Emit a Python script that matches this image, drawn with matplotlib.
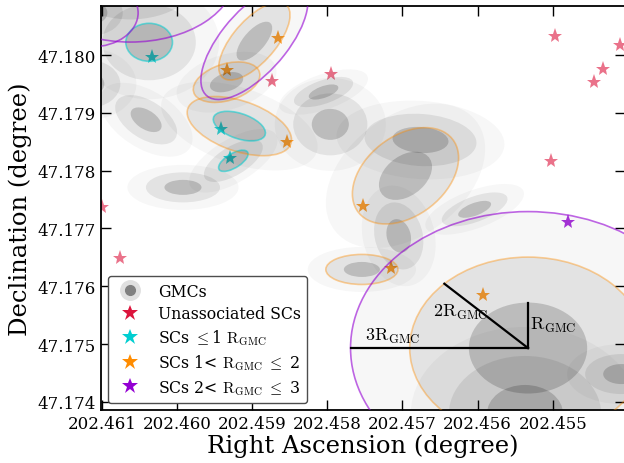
import numpy as np
import matplotlib

matplotlib.use("Agg")
import matplotlib.pyplot as plt
from matplotlib.patches import Ellipse
from matplotlib.lines import Line2D

plt.rcParams["font.family"] = "serif"
plt.rcParams["font.serif"] = ["DejaVu Serif"]
plt.rcParams["mathtext.fontset"] = "cm"

# GMC catalogue: centre (deg), full axes of the 1 R_GMC ellipse (deg), angle (deg)
gmc_ra = [202.46062, 202.46113, 202.46118, 202.46037, 202.45897, 202.45934, 202.46041,
          202.45917, 202.45925, 202.45992, 202.45805, 202.45796, 202.45676, 202.45696,
          202.45705, 202.45604, 202.45754, 202.45533, 202.45537, 202.45409]
gmc_dec = [47.18140, 47.18073, 47.17950, 47.18022, 47.18024, 47.17953, 47.17888,
           47.17877, 47.17817, 47.17771, 47.17936, 47.17880, 47.17853, 47.17791,
           47.17687, 47.17733, 47.17629, 47.17493, 47.17379, 47.17448]
gmc_width = [0.000933, 0.000409, 0.000427, 0.000621, 0.000763, 0.000475, 0.000514,
             0.000754, 0.000487, 0.000493, 0.000431, 0.000493, 0.000747, 0.000915,
             0.000584, 0.000483, 0.000480, 0.001574, 0.001013, 0.000480]
gmc_height = [0.000784, 0.000392, 0.000415, 0.000657, 0.000310, 0.000306, 0.000296,
              0.000419, 0.000227, 0.000260, 0.000195, 0.000536, 0.000450, 0.000597,
              0.000321, 0.000210, 0.000260, 0.001574, 0.001003, 0.000346]
gmc_angle = [0, 0, 0, 0, 121, 152, 47, 28, 138, 0, 153, 0, 6, 123, 82, 152, 0, 0, 0, 0]

# GMCs that get an outline at 1, 2 and 3 R_GMC
ring1_gmcs = [3, 7, 8]
ring2_gmcs = [4, 5, 7, 13, 16, 17]
ring3_gmcs = [0, 1, 4, 17]

# star clusters
unassoc_ra = [202.45795, 202.45874, 202.45497, 202.45410, 202.45433, 202.45445,
              202.45502, 202.46100, 202.46076]
unassoc_dec = [47.17968, 47.17955, 47.18033, 47.18017, 47.17975, 47.17953,
               47.17816, 47.17737, 47.17648]
sc1_ra = [202.46033, 202.45941, 202.45930]
sc1_dec = [47.17997, 47.17872, 47.17821]
sc2_ra = [202.45865, 202.45934, 202.45854, 202.45753, 202.45715, 202.45593]
sc2_dec = [47.18029, 47.17974, 47.17850, 47.17739, 47.17631, 47.17584]
sc3_ra = [202.45480]
sc3_dec = [47.17711]

xticks = [202.461, 202.460, 202.459, 202.458, 202.457, 202.456, 202.455]
yticks = [47.174, 47.175, 47.176, 47.177, 47.178, 47.179, 47.180]

fig = plt.figure(figsize=(6.24, 4.64), dpi=100)
ax = fig.add_axes([0.1619, 0.1142, 0.8397, 0.8707])

star_kw = dict(marker="*", ms=11, ls="none", mew=0, zorder=1)
ax.plot(unassoc_ra, unassoc_dec, color="crimson", alpha=0.6, **star_kw)
ax.plot(sc1_ra, sc1_dec, color="darkturquoise", alpha=0.8, **star_kw)
ax.plot(sc2_ra, sc2_dec, color="darkorange", alpha=0.8, **star_kw)
ax.plot(sc3_ra, sc3_dec, color="darkviolet", alpha=0.8, **star_kw)

fill_alpha = {3: 0.03, 2: 0.08, 1: 0.17}
for i in range(len(gmc_ra)):
    for k in (3, 2, 1):
        ax.add_patch(Ellipse((gmc_ra[i], gmc_dec[i]), k * gmc_width[i], k * gmc_height[i],
                             angle=gmc_angle[i], facecolor="k", edgecolor="none",
                             alpha=fill_alpha[k], zorder=2))

rings = [(ring1_gmcs, 1, "darkturquoise", 0.55),
         (ring2_gmcs, 2, "darkorange", 0.4),
         (ring3_gmcs, 3, "darkviolet", 0.6)]
for idx, k, col, a in rings:
    for i in idx:
        ax.add_patch(Ellipse((gmc_ra[i], gmc_dec[i]), k * gmc_width[i], k * gmc_height[i],
                             angle=gmc_angle[i], fill=False, edgecolor=col, alpha=a,
                             lw=1.2, zorder=3))

# radius guide on the big GMC
big = 17
r = gmc_width[big] / 2
ra0, dec0 = gmc_ra[big], gmc_dec[big]
ax.plot([ra0, ra0], [dec0, dec0 + r], color="k", lw=1.6, zorder=4)
ax.plot([ra0, ra0 + 2 * r * np.cos(np.pi / 4)], [dec0, dec0 + 2 * r * np.sin(np.pi / 4)],
        color="k", lw=1.6, zorder=4)
ax.plot([ra0, ra0 + 3 * r], [dec0, dec0], color="k", lw=1.6, zorder=4)
ax.text(ra0 - 0.03 * r, dec0 + 0.53 * r, r"$\mathrm{R_{GMC}}$", fontsize=13,
        ha="left", va="center", zorder=4)
ax.text(ra0 + 1.61 * r, dec0 + 0.81 * r, r"$\mathrm{2R_{GMC}}$", fontsize=13,
        ha="left", va="center", zorder=4)
ax.text(ra0 + 2.76 * r, dec0 + 0.27 * r, r"$\mathrm{3R_{GMC}}$", fontsize=13,
        ha="left", va="center", zorder=4)

ax.set_xlim(202.46101, 202.45404)
ax.set_ylim(47.173858, 47.180848)
ax.set_xticks(xticks)
ax.set_yticks(yticks)
ax.set_xticklabels(["%.3f" % t for t in xticks])
ax.set_yticklabels(["%.3f" % t for t in yticks])
ax.tick_params(direction="in", top=True, right=True, length=7, width=1, labelsize=12)
for s in ax.spines.values():
    s.set_linewidth(1.3)
ax.set_xlabel("Right Ascension (degree)", fontsize=17.5, labelpad=1)
ax.set_ylabel("Declination (degree)", fontsize=17.5, labelpad=4)

handles = [
    (Line2D([], [], marker="o", ms=14, ls="none", color="0.88"),
     Line2D([], [], marker="o", ms=7, ls="none", color="0.5")),
    Line2D([], [], marker="*", ms=12, ls="none", color="crimson", mew=0),
    Line2D([], [], marker="*", ms=12, ls="none", color="darkturquoise", mew=0),
    Line2D([], [], marker="*", ms=12, ls="none", color="darkorange", mew=0),
    Line2D([], [], marker="*", ms=12, ls="none", color="darkviolet", mew=0),
]
labels = [
    "GMCs",
    "Unassociated SCs",
    r"SCs $\leq$1 $\mathrm{R_{GMC}}$",
    r"SCs 1< $\mathrm{R_{GMC}}$ $\leq$ 2",
    r"SCs 2< $\mathrm{R_{GMC}}$ $\leq$ 3",
]
leg = ax.legend(handles, labels, loc="lower left", fontsize=11.3, framealpha=1,
                edgecolor="0.3", fancybox=True, labelspacing=0.35,
                borderaxespad=0.45)
leg.set_zorder(5)

fig.savefig("out.png", dpi=100)
